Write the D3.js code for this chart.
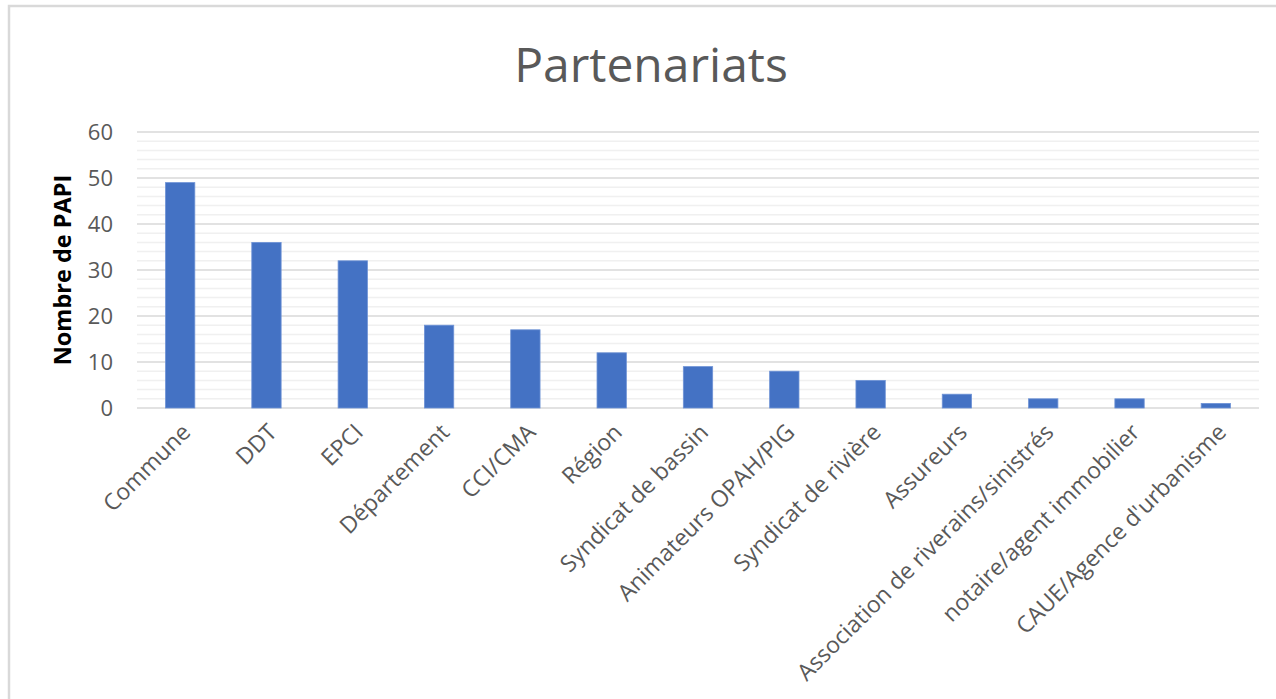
<!DOCTYPE html>
<html><head><meta charset="utf-8">
<script src="https://cdn.jsdelivr.net/npm/d3@7"></script>
<style>body{margin:0;background:#fff;} svg{display:block;}</style>
</head><body>
<svg id="c" width="1276" height="699"></svg>
<script>
const categories = ["Commune","DDT","EPCI","Département","CCI/CMA","Région","Syndicat de bassin","Animateurs OPAH/PIG","Syndicat de rivière","Assureurs","Association de riverains/sinistrés","notaire/agent immobilier","CAUE/Agence d'urbanisme"];
const values = [49,36,32,18,17,12,9,8,6,3,2,2,1];
const yTicks = [0,10,20,30,40,50,60];
const minorTicks = d3.range(0,61,2);
const title = "Partenariats";
const yTitle = "Nombre de PAPI";

const svg = d3.select("#c");
const font = "'Open Sans', sans-serif";
const L = 137, R = 1259, T = 132, B = 408;

svg.append("rect").attr("x",9).attr("y",6).attr("width",1300).attr("height",800)
  .attr("fill","#fff").attr("stroke","#d9d9d9").attr("stroke-width",2.5);

const x = d3.scaleBand().domain(categories).range([L,R]).paddingInner(0.66).paddingOuter(0.33);
const y = d3.scaleLinear().domain([0,60]).range([B,T]);

// minor gridlines
svg.append("g").selectAll("line").data(minorTicks.filter(d=>d%10!==0)).join("line")
  .attr("x1",L).attr("x2",R).attr("y1",d=>y(d)).attr("y2",d=>y(d))
  .attr("stroke","#f0f0f0").attr("stroke-width",1.5);
// major gridlines
svg.append("g").selectAll("line").data(yTicks).join("line")
  .attr("x1",L).attr("x2",R).attr("y1",d=>y(d)).attr("y2",d=>y(d))
  .attr("stroke","#d9d9d9").attr("stroke-width",1.6);

// y axis labels
const yAxis = d3.axisLeft(y).tickValues(yTicks).tickSize(0).tickPadding(0);
const ga = svg.append("g").attr("transform",`translate(${L-24},0)`).call(yAxis);
ga.select(".domain").remove();
ga.selectAll("text").attr("font-family",font).attr("font-size",22).attr("fill","#595959").attr("dy","0.35em");

// bars
svg.append("g").selectAll("rect").data(values).join("rect")
  .attr("x",(d,i)=>x(categories[i])).attr("width",x.bandwidth())
  .attr("y",d=>y(d)).attr("height",d=>B-y(d))
  .attr("fill","#4472c4").attr("stroke","#6f93d6").attr("stroke-width",0.8);

// x axis labels
const xAxis = d3.axisBottom(x).tickSize(0).tickPadding(0);
const gx = svg.append("g").attr("transform",`translate(0,${B})`).call(xAxis);
gx.select(".domain").remove();
gx.selectAll("text").attr("font-family",font).attr("font-size",23).attr("fill","#595959")
  .attr("text-anchor","end").attr("dy","0.35em")
  .attr("transform",d=>`translate(${x.bandwidth()/2+6},${20}) rotate(-45)`);
gx.selectAll(".tick").attr("transform",d=>`translate(${x(d)},0)`);

// title
svg.append("text").attr("x",651).attr("y",82).attr("text-anchor","middle")
  .attr("font-family",font).attr("font-size",48).attr("fill","#595959").text(title);

// y title
svg.append("text").attr("transform",`translate(71,${(T+B)/2}) rotate(-90)`).attr("text-anchor","middle")
  .attr("font-family",font).attr("font-size",23.5).attr("font-weight","bold").attr("fill","#000").text(yTitle);
</script>
</body></html>
